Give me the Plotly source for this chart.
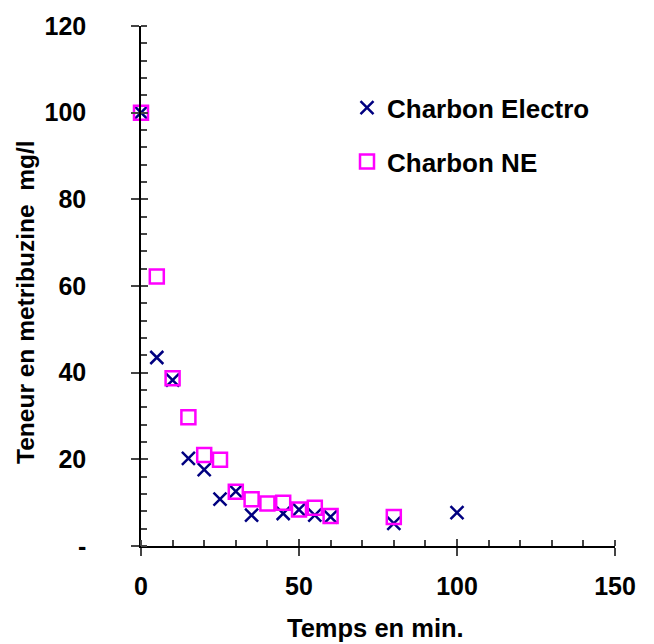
import plotly.graph_objects as go

temps_electro = [0, 5, 10, 15, 20, 25, 30, 35, 45, 50, 55, 60, 80, 100]
teneur_electro = [100, 43.5, 38.3, 20.2, 17.6, 10.8, 12.6, 7.1, 7.5, 8.4, 7.1, 6.7, 5.2, 7.7]

temps_ne = [0, 5, 10, 15, 20, 25, 30, 35, 40, 45, 50, 55, 60, 80]
teneur_ne = [100, 62.2, 38.7, 29.7, 21.0, 19.9, 12.5, 10.8, 9.8, 10.0, 8.4, 8.8, 6.9, 6.7]

x_ticks = [0, 50, 100, 150]
x_ticklabels = ["0", "50", "100", "150"]
y_ticks = [0, 20, 40, 60, 80, 100, 120]
y_ticklabels = ["-", "20", "40", "60", "80", "100", "120"]

FONT = "Liberation Sans, Arial, sans-serif"

fig = go.Figure()
fig.add_trace(go.Scatter(
    x=temps_electro, y=teneur_electro, mode="markers", name="<b>Charbon Electro</b>",
    legend="legend", cliponaxis=False,
    marker=dict(symbol="x-thin-open", size=13, color="#000080",
                line=dict(color="#000080", width=2.5)),
))
fig.add_trace(go.Scatter(
    x=temps_ne, y=teneur_ne, mode="markers", name="<b>Charbon NE</b>",
    legend="legend2", cliponaxis=False,
    marker=dict(symbol="square-open", size=14, color="#FF00FF",
                line=dict(color="#FF00FF", width=2.5)),
))

axis_font = dict(family=FONT, size=25, color="black")
leg_font = dict(family=FONT, size=26, color="black")

fig.update_layout(
    width=654, height=644,
    margin=dict(l=141, r=39, t=24, b=98),
    paper_bgcolor="white", plot_bgcolor="white",
    font=dict(family=FONT, color="black"),
    showlegend=True,
    legend=dict(x=0.4346, y=(546 - 106) / 522, xanchor="left", yanchor="middle",
                font=leg_font, bgcolor="rgba(0,0,0,0)", itemwidth=30),
    legend2=dict(x=0.4346, y=(546 - 160) / 522, xanchor="left", yanchor="middle",
                 font=leg_font, bgcolor="rgba(0,0,0,0)", itemwidth=30),
    xaxis=dict(range=[0, 150], tickvals=x_ticks,
               ticktext=["<b>%s</b>" % t for t in x_ticklabels],
               showgrid=False, zeroline=False, showline=True, linecolor="black",
               linewidth=1.5, ticks="outside", ticklen=8, tickcolor="#444",
               tickwidth=1.5, tickfont=axis_font, ticklabelstandoff=9,
               minor=dict(dtick=10, ticks="inside", ticklen=6, tickcolor="#444",
                          tickwidth=1.5, showgrid=False)),
    yaxis=dict(range=[0, 120], tickvals=y_ticks,
               ticktext=["<b>%s</b>" % t for t in y_ticklabels],
               showgrid=False, zeroline=False, showline=True, linecolor="black",
               linewidth=1.5, ticks="outside", ticklen=8, tickcolor="#444",
               tickwidth=1.5, tickfont=axis_font, ticklabelstandoff=40,
               minor=dict(dtick=4, ticks="inside", ticklen=6, tickcolor="#444",
                          tickwidth=1.5, showgrid=False)),
    xaxis2=dict(range=[0, 150], overlaying="x", tickvals=x_ticks, showticklabels=False,
                ticks="inside", ticklen=7, tickcolor="#444", tickwidth=1.5,
                showgrid=False, zeroline=False, showline=False, side="bottom"),
    yaxis2=dict(range=[0, 120], overlaying="y", tickvals=y_ticks, showticklabels=False,
                ticks="inside", ticklen=7, tickcolor="#444", tickwidth=1.5,
                showgrid=False, zeroline=False, showline=False, side="left"),
)

fig.add_trace(go.Scatter(x=[None], y=[None], xaxis="x2", yaxis="y2",
                         showlegend=False, hoverinfo="skip"))

fig.add_annotation(text="<b>Temps en min.</b>", xref="paper", yref="paper",
                   x=(375.5 - 141) / 474, y=(546 - 628) / 522,
                   xanchor="center", yanchor="middle",
                   showarrow=False, font=dict(family=FONT, size=25.5, color="black"))
fig.add_annotation(text="<b>Teneur en metribuzine  mg/l</b>", xref="paper", yref="paper",
                   x=(26 - 141) / 474, y=(546 - 301) / 522,
                   xanchor="center", yanchor="middle", textangle=-90,
                   showarrow=False, font=dict(family=FONT, size=24.5, color="black"))

fig.write_html("out.html")
